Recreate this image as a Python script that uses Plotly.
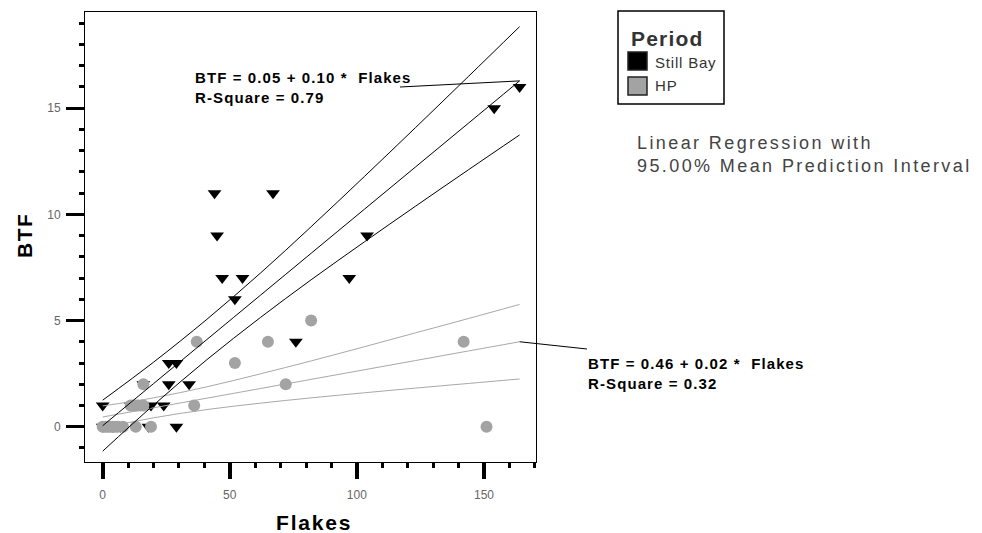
import plotly.graph_objects as go

# Still Bay assemblages: flake count vs BTF count
sb_flakes = [164, 154, 44, 67, 45, 104, 47, 55, 97, 52, 76, 26, 29, 26, 34, 16,
             0, 19, 24, 18, 29, 0, 4, 7, 11, 15]
sb_btf = [16, 15, 11, 11, 9, 9, 7, 7, 7, 6, 4, 3, 3, 2, 2, 2,
          1, 1, 1, 0, 0, 0, 0, 0, 1, 1]

# Howiesons Poort assemblages
hp_flakes = [37, 65, 82, 142, 52, 72, 16, 36, 151, 11, 12, 13, 14, 16,
             0, 1, 2, 3, 4, 5, 6, 8, 13, 19]
hp_btf = [4, 4, 5, 4, 3, 2, 2, 1, 0, 1, 1, 1, 1, 1,
          0, 0, 0, 0, 0, 0, 0, 0, 0, 0]

# regression coefficients
sb_intercept, sb_slope, sb_r2 = 0.05, 0.099, 0.79
hp_intercept, hp_slope, hp_r2 = 0.46, 0.0216, 0.32

# 95% mean prediction interval limits
band_x = [0, 20, 41, 62, 82, 103, 123, 144, 164]
sb_upper = [1.25, 3.04, 5.06, 7.23, 9.42, 11.79, 14.08, 16.51, 18.84]
sb_lower = [-1.15, 1.02, 3.16, 5.14, 6.92, 8.71, 10.38, 12.11, 13.74]
hp_upper = [0.98, 1.36, 1.88, 2.49, 3.10, 3.77, 4.42, 5.10, 5.76]
hp_lower = [-0.06, 0.42, 0.81, 1.11, 1.36, 1.60, 1.82, 2.04, 2.25]

x_ticks = [0, 50, 100, 150]
y_ticks = [0, 5, 10, 15]

X_RANGE = [-6.96, 170.46]
Y_RANGE = [-1.66, 19.53]

# plot area in pixels
PL, PT, PW, PH = 85, 12, 451, 450
W, H = 982, 533

FONT = "Liberation Sans, Arial, sans-serif"


def px2paper(px, py):
    return (px - PL) / PW, 1 - (py - PT) / PH


def data2paper(x, y):
    return ((x - X_RANGE[0]) / (X_RANGE[1] - X_RANGE[0]),
            (y - Y_RANGE[0]) / (Y_RANGE[1] - Y_RANGE[0]))


def spaced(text, ls):
    return f'<span style="letter-spacing:{ls}px">{text}</span>'


def fit(b0, b1, xs):
    return [b0 + b1 * x for x in xs]


fig = go.Figure()

fig.add_trace(go.Scatter(
    x=sb_flakes, y=sb_btf, mode="markers", name="Still Bay",
    marker=dict(symbol="triangle-down", size=12, color="black"),
    showlegend=False, cliponaxis=True))

for ys in (hp_upper, fit(hp_intercept, hp_slope, band_x), hp_lower):
    fig.add_trace(go.Scatter(x=band_x, y=ys, mode="lines", line_shape="spline",
                             line=dict(color="#a8a8a8", width=1),
                             showlegend=False, hoverinfo="skip"))

fig.add_trace(go.Scatter(
    x=hp_flakes, y=hp_btf, mode="markers", name="HP",
    marker=dict(symbol="circle", size=12, color="#a3a3a3"),
    showlegend=False))

for ys in (sb_upper, fit(sb_intercept, sb_slope, band_x), sb_lower):
    fig.add_trace(go.Scatter(x=band_x, y=ys, mode="lines", line_shape="spline",
                             line=dict(color="black", width=1),
                             showlegend=False, hoverinfo="skip"))

shapes = []
annotations = []

# leader lines from the equations to the fitted line ends
x_end = band_x[-1]
sb_end = data2paper(x_end, sb_intercept + sb_slope * x_end)
sb_start = px2paper(400, 87)
shapes.append(dict(type="line", xref="paper", yref="paper",
                   x0=sb_start[0], y0=sb_start[1], x1=sb_end[0], y1=sb_end[1],
                   line=dict(color="black", width=1)))
hp_end = data2paper(x_end, hp_intercept + hp_slope * x_end)
hp_start = px2paper(587, 349)
shapes.append(dict(type="line", xref="paper", yref="paper",
                   x0=hp_end[0], y0=hp_end[1], x1=hp_start[0], y1=hp_start[1],
                   line=dict(color="black", width=1)))


def eq_text(b0, b1, r2):
    return (spaced(f"<b>BTF = {b0:.2f} + {b1:.2f} *  Flakes</b>", 1.1) + "<br>"
            + spaced(f"<b>R-Square = {r2:.2f}</b>", 1.1))


for (px, py), (b0, b1, r2) in (((193, 88), (sb_intercept, sb_slope, sb_r2)),
                               ((586, 373), (hp_intercept, hp_slope, hp_r2))):
    ax_, ay_ = px2paper(px, py)
    annotations.append(dict(text=eq_text(b0, b1, r2), xref="paper", yref="paper",
                            x=ax_, y=ay_, xanchor="left", yanchor="middle",
                            align="left", showarrow=False,
                            font=dict(family=FONT, size=15, color="black")))

# legend box
lx0, ly0 = px2paper(618, 11)
lx1, ly1 = px2paper(724, 104)
shapes.append(dict(type="rect", xref="paper", yref="paper",
                   x0=lx0, y0=ly1, x1=lx1, y1=ly0,
                   line=dict(color="black", width=1.5), fillcolor="white"))
for (top, bottom), colour in (((52, 70), "black"), ((77, 95), "#a3a3a3")):
    sx0, sy0 = px2paper(628, top)
    sx1, sy1 = px2paper(647, bottom)
    shapes.append(dict(type="rect", xref="paper", yref="paper",
                       x0=sx0, y0=sy1, x1=sx1, y1=sy0,
                       line=dict(color="#222", width=1.5), fillcolor=colour))

tx, ty = px2paper(629, 38)
annotations.append(dict(text=spaced("<b>Period</b>", 1.2), xref="paper", yref="paper",
                        x=tx, y=ty, xanchor="left", yanchor="middle", showarrow=False,
                        font=dict(family=FONT, size=21, color="#333")))
for label, py in (("Still Bay", 62), ("HP", 86)):
    tx, ty = px2paper(653, py)
    annotations.append(dict(text=spaced(label, 0.8), xref="paper", yref="paper",
                            x=tx, y=ty, xanchor="left", yanchor="middle",
                            showarrow=False,
                            font=dict(family=FONT, size=15, color="#333")))

tx, ty = px2paper(635, 154)
annotations.append(dict(
    text=spaced("Linear Regression with", 2.4) + "<br>"
    + spaced("95.00% Mean Prediction Interval", 2.4),
    xref="paper", yref="paper", x=tx, y=ty, xanchor="left", yanchor="middle",
    align="left", showarrow=False,
    font=dict(family=FONT, size=18, color="#444")))

# axis titles
tx, ty = px2paper(24, 236)
annotations.append(dict(text=spaced("<b>BTF</b>", 1.5), xref="paper", yref="paper",
                        x=tx, y=ty, textangle=-90, showarrow=False,
                        xanchor="center", yanchor="middle",
                        font=dict(family=FONT, size=21, color="black")))
tx, ty = px2paper(314, 522)
annotations.append(dict(text=spaced("<b>Flakes</b>", 1.8), xref="paper", yref="paper",
                        x=tx, y=ty, showarrow=False,
                        xanchor="center", yanchor="middle",
                        font=dict(family=FONT, size=21, color="black")))

axis_common = dict(
    showgrid=False, zeroline=False, showline=True, linecolor="black",
    linewidth=1, mirror=True, ticks="outside", tickcolor="black",
    tickfont=dict(family=FONT, size=12, color="#666"),
)

fig.update_layout(
    width=W, height=H,
    margin=dict(l=PL, r=W - PL - PW, t=PT, b=H - PT - PH, pad=0),
    paper_bgcolor="white", plot_bgcolor="white",
    showlegend=False,
    xaxis=dict(range=X_RANGE, tickvals=x_ticks, ticktext=[str(v) for v in x_ticks],
               ticklen=16, tickwidth=4, ticklabelstandoff=6,
               minor=dict(dtick=10, tick0=0, ticks="outside", ticklen=5,
                          tickwidth=3, tickcolor="black"),
               **axis_common),
    yaxis=dict(range=Y_RANGE, tickvals=y_ticks, ticktext=[str(v) for v in y_ticks],
               ticklen=18, tickwidth=3, ticklabelstandoff=3,
               minor=dict(dtick=1, tick0=0, ticks="outside", ticklen=5,
                          tickwidth=3, tickcolor="black"),
               **axis_common),
    shapes=shapes,
    annotations=annotations,
)

fig.write_html("out.html")
